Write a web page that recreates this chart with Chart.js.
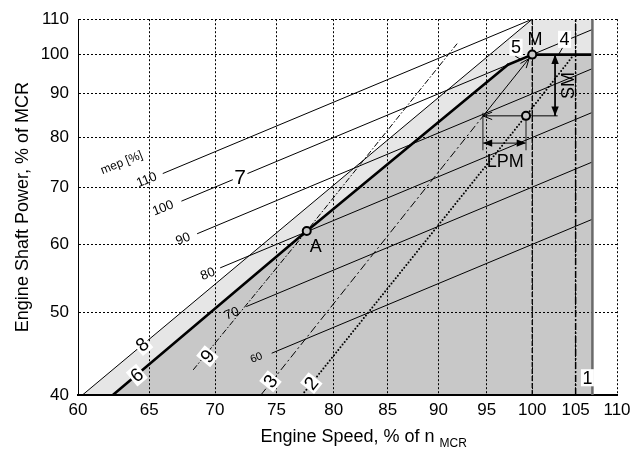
<!DOCTYPE html>
<html>
<head>
<meta charset="utf-8">
<script src="https://cdn.jsdelivr.net/npm/chart.js@4.4.1/dist/chart.umd.min.js"></script>
<style>
  html, body { margin: 0; padding: 0; background: #fff; }
</style>
</head>
<body>
<canvas id="chart" width="644" height="450"></canvas>
<script>
// axis ticks, both in % of MCR
const speedTicks = [60, 65, 70, 75, 80, 85, 90, 95, 100, 105, 110];
const powerTicks = [40, 50, 60, 70, 80, 90, 100, 110];

// constant mep lines: level [%], speed where each line starts and stops
const mepLevels = [110, 100, 90, 80, 70, 60];
const mepFrom = [66.0, 67.4, 68.6, 70.4, 72.5, 74.6];
const mepTo = [100, 107, 107, 107, 107, 107];

// layout lines, [speed, power] pairs
const line1 = [[107, 40], [107, 110]];
const line2 = [[77.2, 40], [99.3, 84.8], [104.8, 100]];
const line3 = [[73.7, 40], [94.6, 84.7]];
const line3top = [[94.6, 84.7], [100, 100]];
const line4 = [[100, 100], [107, 100]];
const line5 = [[97.3, 97.3], [100, 100]];
const line6 = [[62.4, 40], [77.6, 62.2], [97.3, 97.3]];
const line8 = [[60.3, 40], [100, 110]];
const line9 = [[68.3, 42.8], [77.6, 62.2], [91.9, 103.0]];
const speed100 = [[100, 40], [100, 110]];
const speed105 = [[105, 40], [105, 110]];

// operating points
const pointA = [77.6, 62.2];
const pointM = [100, 100];
const pointLPM = [99.3, 84.8];

// margins
const smLine = [[102.6, 100], [102.6, 84.8]];
const lpmLine = [[94.6, 84.8], [102.9, 84.8]];
const lpmLeft = [[94.6, 85.5], [94.6, 77.3]];
const lpmRight = [[99.3, 84.8], [99.3, 77.3]];
const lpmSpan = [[94.6, 78.8], [99.3, 78.8]];
const lead5 = [[98.1, 99.6], [98.8, 98.6]];
const lead4 = [[103.0, 100], [103.6, 102.4]];

const FONT = "'Liberation Sans', Arial, Helvetica, sans-serif";
const pts = arr => arr.map(([x, y]) => ({ x, y }));

function seg(data, width, color, dash, cap) {
  return {
    data: pts(data), showLine: true, borderColor: color || '#000',
    borderWidth: width, borderDash: dash || [], borderCapStyle: cap || 'butt',
    pointRadius: 0, fill: false, order: 0
  };
}
function dot(p) {
  return {
    data: pts([p]), showLine: false, pointRadius: 4, pointBorderWidth: 2,
    pointBorderColor: '#000', pointBackgroundColor: '#c8c8c8', order: -1
  };
}

// shaded areas
const lightArea = line8.concat([[107, 110], [107, 40]]);
const darkArea = line6.concat(line5.slice(1), line4.slice(1), [[107, 40]]);

const datasets = [
  { data: pts(darkArea), showLine: true, borderWidth: 0, pointRadius: 0,
    fill: 'start', backgroundColor: '#c8c8c8', order: 1 },
  { data: pts(lightArea), showLine: true, borderWidth: 0, pointRadius: 0,
    fill: 'start', backgroundColor: '#e6e6e6', order: 2 },
  seg(speed100, 1.3, '#000', [5, 2]),
  seg(speed105, 1.5, '#000', [7, 2, 2, 2]),
  seg(line1, 2.5, '#6a6a6a'),
];
mepLevels.forEach((m, i) => {
  datasets.push(seg([[mepFrom[i], m / 100 * mepFrom[i]], [mepTo[i], m / 100 * mepTo[i]]], 1));
});
datasets.push(
  seg(line8, 1),
  seg(line9, 1, '#000', [6, 2, 1.5, 2]),
  seg(line3, 1, '#000', [8, 3, 2, 3]),
  seg(line3top, 1),
  seg(line2, 2, '#000', [0, 3.4], 'round'),
  seg(line6, 2.6, '#000', [], 'round'),
  seg(line5, 2.6, '#000', [], 'round'),
  seg(line4, 2.6),
  seg(smLine, 1),
  seg(lpmLine, 1),
  seg(lpmLeft, 1.5, '#555'),
  seg(lpmRight, 1.5, '#555'),
  seg(lpmSpan, 1),
  seg(lead5, 1),
  seg(lead4, 1),
  dot(pointA), dot(pointM), dot(pointLPM)
);

// text placed on the diagram
const notes = [
  { text: 'mep [%]', at: [63.0, 74.9], size: 12, rot: -22 },
  { text: '110', at: [64.8, 71.5], size: 13, rot: -22 },
  { text: '100', at: [66.0, 66.3], size: 13, rot: -22 },
  { text: '90', at: [67.5, 61.0], size: 13, rot: -22 },
  { text: '80', at: [69.4, 55.5], size: 13, rot: -22 },
  { text: '70', at: [71.3, 49.9], size: 13, rot: -22 },
  { text: '60', at: [73.3, 44.3], size: 11, rot: -22 },
  { text: '7', at: [72.0, 71.9], size: 21, box: true },
  { text: '8', at: [64.5, 45.8], size: 19, rot: -40, box: true },
  { text: '6', at: [64.1, 42.2], size: 19, rot: -40, box: true },
  { text: '9', at: [69.4, 44.4], size: 19, rot: -51, box: true },
  { text: '3', at: [74.5, 41.5], size: 19, rot: -51, box: true },
  { text: '2', at: [78.0, 41.3], size: 19, rot: -51, box: true },
  { text: '1', at: [106.4, 41.9], size: 18, box: true },
  { text: '5', at: [98.2, 102.0], size: 18, box: true },
  { text: '4', at: [103.7, 104.2], size: 18, box: true },
  { text: 'M', at: [100.3, 104.2], size: 18 },
  { text: 'A', at: [78.4, 59.7], size: 18 },
  { text: 'SM', at: [104.1, 92.0], size: 18, rot: -90 },
  { text: 'LPM', at: [97.0, 75.0], size: 18 },
];

// arrow heads: tip, point it comes from, pull-back in px, filled or open
const heads = [
  { tip: pointM, from: line3top[0], back: 5, filled: false },
  { tip: lpmLine[0], from: lpmLine[1], back: 0, filled: false },
  { tip: smLine[0], from: smLine[1], back: 0, filled: true },
  { tip: smLine[1], from: smLine[0], back: 0, filled: true },
  { tip: lpmSpan[0], from: lpmSpan[1], back: 0, filled: true },
  { tip: lpmSpan[1], from: lpmSpan[0], back: 0, filled: true },
];

const decor = {
  id: 'decor',
  afterDatasetsDraw(chart) {
    const { ctx, scales: { x, y } } = chart;
    const px = p => ({ x: x.getPixelForValue(p[0]), y: y.getPixelForValue(p[1]) });

    ctx.save();
    heads.forEach(h => {
      const t = px(h.tip), f = px(h.from);
      const a = Math.atan2(t.y - f.y, t.x - f.x);
      const tx = t.x - h.back * Math.cos(a), ty = t.y - h.back * Math.sin(a);
      const len = 10, w = 0.38;
      ctx.beginPath();
      ctx.moveTo(tx - len * Math.cos(a - w), ty - len * Math.sin(a - w));
      ctx.lineTo(tx, ty);
      ctx.lineTo(tx - len * Math.cos(a + w), ty - len * Math.sin(a + w));
      ctx.lineWidth = 1;
      ctx.strokeStyle = '#000';
      ctx.fillStyle = '#000';
      if (h.filled) { ctx.closePath(); ctx.fill(); } else { ctx.stroke(); }
    });

    notes.forEach(n => {
      const p = px(n.at);
      ctx.save();
      ctx.translate(p.x, p.y);
      ctx.rotate((n.rot || 0) * Math.PI / 180);
      ctx.font = n.size + 'px ' + FONT;
      ctx.textAlign = 'center';
      ctx.textBaseline = 'middle';
      if (n.box) {
        const w = ctx.measureText(n.text).width + 3;
        const h = n.size * 0.95;
        ctx.fillStyle = '#fff';
        ctx.fillRect(-w / 2, -h / 2, w, h);
      }
      ctx.fillStyle = '#000';
      ctx.fillText(n.text, 0, 1);
      ctx.restore();
    });

    // subscript after the speed axis title
    const xt = x.options.title;
    ctx.font = '18px ' + FONT;
    const tw = ctx.measureText(xt.text).width;
    const cx = (chart.chartArea.left + chart.chartArea.right) / 2;
    ctx.font = '12px ' + FONT;
    ctx.fillStyle = '#000';
    ctx.textAlign = 'left';
    ctx.textBaseline = 'alphabetic';
    ctx.fillText('MCR', cx + tw / 2 + 5, 447);
    ctx.restore();
  }
};

const tickFont = { family: FONT, size: 17 };

new Chart(document.getElementById('chart'), {
  type: 'scatter',
  data: { datasets },
  options: {
    responsive: false,
    animation: false,
    events: [],
    layout: { padding: { top: 19, right: 27, left: 0, bottom: 0 } },
    elements: { line: { tension: 0 } },
    plugins: {
      legend: { display: false },
      tooltip: { enabled: false },
      filler: { drawTime: 'beforeDraw' }
    },
    scales: {
      x: {
        type: 'logarithmic', min: 60, max: 110,
        afterBuildTicks: s => { s.ticks = speedTicks.map(v => ({ value: v })); },
        afterFit: s => { s.height = 55; },
        grid: { color: '#000', lineWidth: 1, drawTicks: false },
        border: { display: true, color: '#000', width: 2, dash: [2, 2] },
        ticks: { callback: v => String(v), font: tickFont, color: '#000', padding: 5,
                 maxRotation: 0, autoSkip: false },
        title: { display: true, text: 'Engine Speed, % of n', font: { family: FONT, size: 18 },
                 color: '#000', padding: { top: 0, bottom: 2 } }
      },
      y: {
        type: 'logarithmic', min: 40, max: 110,
        afterBuildTicks: s => { s.ticks = powerTicks.map(v => ({ value: v })); },
        afterFit: s => { s.width = 78; },
        grid: { color: '#000', lineWidth: 1, drawTicks: false },
        border: { display: true, color: '#000', width: 1, dash: [2, 2] },
        ticks: { callback: v => String(v), font: tickFont, color: '#000', padding: 9,
                 autoSkip: false },
        title: { display: true, text: 'Engine Shaft Power, % of MCR', font: { family: FONT, size: 18 },
                 color: '#000', padding: { top: 12, bottom: 0 } }
      }
    }
  },
  plugins: [decor]
});
</script>
</body>
</html>
